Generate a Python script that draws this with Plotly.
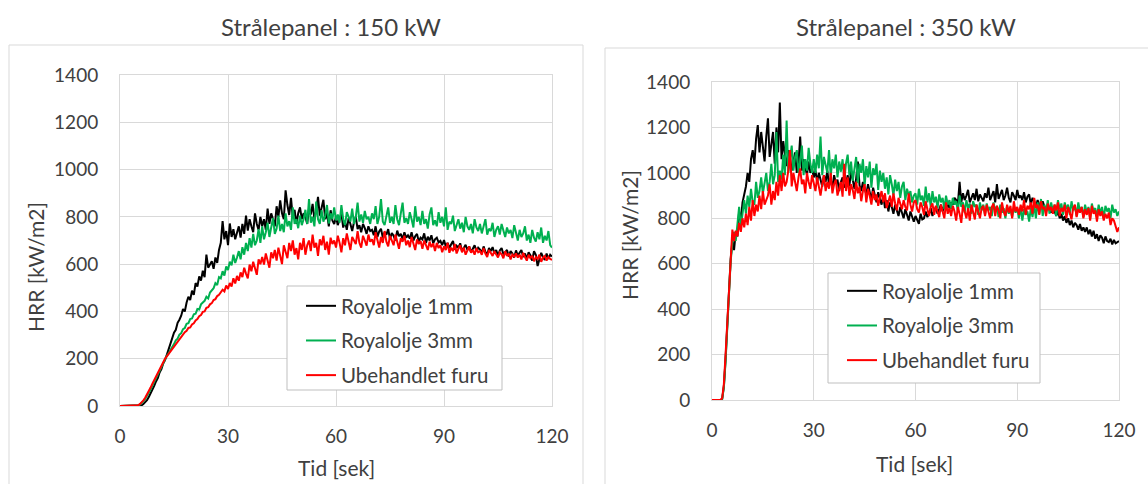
import plotly.graph_objects as go

# ---------------- data ----------------
STEP = 0.5  # seconds between samples
TIME = [i * STEP for i in range(241)]

SERIES_NAMES = ["Royalolje 1mm", "Royalolje 3mm", "Ubehandlet furu"]
SERIES_COLORS = ["#000000", "#00b050", "#ff0000"]
PANEL_TITLES = ["Strålepanel : 150 kW", "Strålepanel : 350 kW"]
X_TICKS = [0, 30, 60, 90, 120]
Y_TICKS = [0, 200, 400, 600, 800, 1000, 1200, 1400]
X_TITLE = "Tid [sek]"
Y_TITLE = "HRR [kW/m2]"

# 150 kW panel
P150_ROYAL_1MM = [
    0, 0, 0, 0, 0, 0, 0, 0, 0, 0, 0, 0, 3, 8, 15, 25, 38, 52, 68, 85,
    104, 118, 142, 156, 180, 194, 216, 238, 268, 282, 310, 322, 352, 365, 382, 410, 400, 438, 462, 448,
    488, 470, 520, 505, 548, 530, 572, 545, 640, 585, 598, 612, 580, 628, 605, 660, 690, 782, 705, 740,
    680, 772, 715, 748, 705, 730, 760, 712, 770, 728, 805, 742, 790, 760, 735, 815, 770, 745, 800, 760,
    790, 745, 835, 770, 815, 790, 760, 845, 800, 870, 815, 790, 912, 850, 808, 880, 795, 830, 770, 815,
    840, 790, 815, 800, 770, 835, 810, 855, 790, 825, 885, 805, 840, 872, 790, 815, 760, 828, 785, 770,
    800, 765, 790, 815, 755, 780, 745, 795, 770, 740, 778, 800, 748, 765, 735, 770, 752, 728, 760, 740,
    745, 722, 760, 715, 738, 750, 712, 735, 725, 748, 705, 732, 720, 700, 742, 718, 728, 705, 735, 712,
    722, 708, 735, 700, 718, 728, 695, 712, 705, 730, 690, 716, 700, 722, 688, 705, 712, 692, 698, 680,
    702, 675, 690, 668, 684, 698, 662, 678, 670, 688, 655, 672, 682, 660, 675, 650, 668, 680, 655, 670,
    662, 648, 675, 652, 640, 668, 655, 672, 645, 660, 635, 658, 668, 642, 650, 660, 632, 655, 645, 628,
    658, 635, 648, 660, 630, 645, 622, 650, 638, 615, 655, 640, 592, 625, 648, 630, 618, 645, 622, 640,
    632,
]
P150_ROYAL_3MM = [
    0, 0, 0, 0, 0, 0, 0, 0, 0, 0, 2, 6, 12, 20, 30, 42, 55, 70, 86, 102,
    118, 135, 150, 166, 182, 198, 212, 222, 240, 250, 262, 278, 285, 302, 308, 325, 330, 348, 350, 368,
    370, 388, 390, 410, 408, 430, 438, 445, 462, 455, 480, 490, 498, 520, 512, 545, 540, 570, 552, 590,
    575, 610, 595, 640, 605, 628, 655, 620, 672, 640, 690, 655, 710, 670, 728, 680, 700, 748, 690, 760,
    705, 735, 775, 715, 760, 795, 728, 750, 805, 740, 770, 735, 815, 760, 782, 745, 840, 770, 790, 752,
    805, 765, 790, 830, 770, 875, 775, 800, 760, 865, 790, 770, 828, 780, 805, 850, 772, 815, 790, 840,
    785, 810, 775, 850, 790, 765, 820, 795, 780, 835, 770, 800, 860, 780, 810, 775, 825, 790, 800, 770,
    815, 790, 845, 770, 800, 875, 780, 765, 810, 840, 775, 800, 770, 850, 790, 765, 815, 860, 775, 795,
    770, 820, 790, 755, 845, 780, 800, 765, 825, 770, 790, 750, 810, 840, 765, 785, 760, 820, 775, 800,
    760, 840, 745, 780, 770, 805, 740, 765, 790, 750, 775, 735, 800, 760, 745, 770, 730, 790, 755, 740,
    770, 730, 760, 790, 725, 750, 740, 775, 715, 745, 760, 725, 770, 740, 715, 755, 730, 745, 710, 765,
    725, 700, 745, 715, 730, 760, 700, 725, 690, 745, 712, 695, 735, 705, 755, 690, 720, 700, 740, 680,
    670,
]
P150_UNTREATED = [
    0, 0, 0, 0, 0, 0, 0, 0, 0, 0, 3, 8, 15, 24, 35, 48, 62, 78, 94, 110,
    125, 142, 156, 172, 186, 200, 210, 220, 235, 242, 255, 262, 275, 282, 295, 300, 312, 318, 330, 332,
    345, 350, 362, 368, 380, 385, 398, 400, 415, 418, 430, 435, 448, 452, 465, 470, 480, 492, 485, 510,
    495, 520, 505, 540, 518, 550, 530, 565, 545, 585, 560, 540, 598, 570, 610, 585, 555, 620, 600, 630,
    598, 645, 612, 585, 650, 625, 660, 615, 670, 640, 600, 680, 650, 625, 690, 655, 700, 640, 668, 620,
    690, 660, 710, 640, 680, 700, 655, 725, 670, 690, 635, 705, 680, 720, 660, 695, 640, 712, 685, 700,
    670, 720, 690, 650, 710, 680, 730, 695, 660, 715, 700, 685, 740, 690, 670, 720, 700, 678, 725, 695,
    705, 680, 735, 700, 670, 715, 690, 740, 695, 675, 720, 700, 680, 725, 690, 665, 710, 695, 720, 680,
    700, 672, 715, 690, 660, 705, 685, 698, 665, 700, 680, 660, 695, 672, 688, 655, 690, 668, 680, 650,
    675, 660, 690, 648, 670, 655, 685, 645, 665, 680, 650, 670, 640, 662, 675, 648, 660, 640, 668, 650,
    655, 640, 668, 645, 630, 660, 648, 635, 655, 640, 628, 650, 642, 625, 655, 635, 645, 620, 640, 632,
    645, 628, 640, 620, 648, 630, 615, 640, 625, 635, 612, 630, 622, 640, 610, 628, 635, 615, 630, 622,
    618,
]

# 350 kW panel
P350_ROYAL_1MM = [
    0, 0, 0, 0, 0, 0, 5, 60, 180, 330, 480, 620, 700, 660, 740, 720, 830, 790, 870, 900,
    940, 1000, 960, 1060, 1100, 1040, 1150, 1210, 1090, 1180, 1120, 1050, 1160, 1240, 1070, 1130, 1180, 1040, 1200, 1090,
    1310, 1060, 1140, 1080, 1030, 1100, 1070, 1010, 1050, 1090, 1000, 1040, 1160, 1010, 1060, 1030, 990, 1050, 1000, 1020,
    980, 1010, 960, 1000, 970, 940, 990, 960, 1010, 945, 975, 930, 990, 955, 970, 920, 960, 980, 935, 950,
    990, 940, 1010, 960, 930, 975, 1050, 945, 920, 960, 930, 905, 950, 920, 880, 935, 900, 870, 915, 885,
    860, 900, 845, 880, 830, 870, 850, 820, 860, 835, 810, 850, 825, 800, 840, 815, 790, 830, 805, 785,
    810, 790, 775, 820, 795, 800, 830, 805, 820, 845, 810, 830, 850, 820, 840, 860, 830, 855, 840, 865,
    845, 870, 860, 890, 880, 865, 960, 870, 910, 880, 900, 925, 870, 895, 910, 880, 930, 875, 905, 890,
    875, 910, 890, 935, 880, 900, 920, 870, 950, 885, 905, 925, 880, 900, 935, 890, 870, 915, 900, 880,
    925, 890, 900, 880, 915, 870, 895, 905, 860, 890, 875, 850, 880, 860, 840, 875, 850, 830, 860, 840,
    825, 850, 830, 810, 835, 800, 820, 790, 810, 780, 800, 770, 790, 760, 780, 770, 750, 775, 745, 760,
    740, 760, 730, 750, 720, 745, 710, 730, 700, 725, 715, 690, 720, 700, 695, 710, 685, 705, 690, 695,
    700,
]
P350_ROYAL_3MM = [
    0, 0, 0, 0, 0, 0, 5, 55, 170, 320, 470, 610, 690, 740, 700, 780, 850, 760, 830, 880,
    820, 900, 850, 930, 870, 860, 960, 890, 920, 980, 910, 950, 1000, 920, 960, 1040, 950, 990, 1180, 960,
    1010, 970, 1080, 990, 1230, 1000, 1060, 1120, 1010, 1070, 1100, 1000, 1050, 1120, 990, 1060, 1010, 1110, 1040, 1000,
    1060, 1000, 1080, 1020, 1160, 990, 1070, 1030, 1000, 1100, 985, 1060, 1020, 1080, 980, 1050, 1005, 1060, 970, 1040,
    1080, 990, 1050, 965, 1020, 1070, 955, 1040, 1000, 1060, 945, 1030, 980, 1050, 935, 1020, 990, 1040, 925, 1010,
    960, 1000, 930, 980, 905, 990, 950, 900, 970, 920, 960, 890, 940, 960, 880, 930, 900, 920, 870, 900,
    910, 860, 930, 880, 900, 855, 940, 870, 910, 850, 920, 870, 895, 845, 905, 870, 890, 840, 900, 860,
    880, 840, 890, 860, 875, 830, 900, 850, 870, 825, 880, 845, 865, 820, 875, 850, 860, 815, 870, 835,
    860, 815, 865, 835, 850, 810, 870, 830, 855, 805, 860, 825, 845, 800, 855, 820, 840, 805, 850, 825,
    845, 800, 850, 790, 840, 815, 830, 785, 845, 805, 860, 800, 870, 820, 885, 810, 860, 830, 880, 820,
    870, 830, 860, 810, 880, 840, 865, 815, 870, 840, 860, 815, 875, 835, 855, 810, 870, 830, 850, 805,
    860, 825, 850, 800, 865, 830, 845, 805, 860, 820, 850, 800, 855, 830, 845, 800, 860, 825, 840, 810,
    830,
]
P350_UNTREATED = [
    0, 0, 0, 0, 0, 0, 8, 70, 200, 350, 500, 640, 750, 700, 745, 720, 780, 740, 800, 760,
    820, 770, 850, 790, 880, 810, 860, 830, 900, 840, 920, 860, 880, 900, 950, 860, 920, 880, 960, 900,
    990, 920, 1000, 940, 960, 1010, 1100, 940, 1000, 960, 920, 980, 1020, 950, 970, 910, 1000, 960, 930, 990,
    960, 920, 980, 940, 900, 950, 990, 920, 960, 930, 1000, 910, 950, 970, 900, 930, 960, 895, 1040, 920,
    980, 900, 950, 925, 885, 960, 910, 940, 875, 920, 950, 870, 930, 900, 860, 920, 880, 905, 855, 890,
    920, 870, 910, 845, 880, 900, 850, 910, 865, 835, 890, 860, 840, 880, 850, 835, 910, 860, 830, 870,
    880, 840, 825, 870, 850, 815, 875, 840, 810, 850, 865, 815, 855, 830, 805, 860, 835, 800, 870, 820,
    845, 810, 855, 830, 790, 850, 820, 780, 860, 830, 800, 845, 790, 860, 820, 795, 860, 830, 800, 845,
    855, 810, 860, 830, 800, 850, 865, 810, 855, 835, 800, 870, 830, 810, 860, 825, 855, 800, 875, 830,
    850, 815, 860, 830, 880, 815, 855, 840, 870, 820, 890, 845, 860, 815, 875, 840, 850, 810, 865, 835,
    850, 820, 860, 835, 870, 810, 845, 830, 860, 800, 850, 825, 795, 845, 860, 805, 840, 825, 850, 800,
    840, 815, 845, 790, 855, 820, 835, 785, 840, 810, 830, 790, 820, 800, 825, 770, 800, 790, 760, 740,
    760,
]

PANELS = [
    [P150_ROYAL_1MM, P150_ROYAL_3MM, P150_UNTREATED],
    [P350_ROYAL_1MM, P350_ROYAL_3MM, P350_UNTREATED],
]

# ---------------- figure ----------------
W, H = 1148, 484
FONT = "Lato"
TXT = "#404040"
GRID = "#d9d9d9"


def px(x):
    return x / W


def py(y):
    return 1 - y / H


fig = go.Figure()

axis_ids = [("x", "y", "legend"), ("x2", "y2", "legend2")]
for p, values in enumerate(PANELS):
    xa, ya, lg = axis_ids[p]
    for name, color, vals in zip(SERIES_NAMES, SERIES_COLORS, values):
        fig.add_trace(go.Scatter(
            x=TIME, y=vals, mode="lines", name=name,
            line=dict(color=color, width=2),
            xaxis=xa, yaxis=ya, legend=lg, legendgroup=f"{lg}-{name}",
            hoverinfo="skip",
        ))

# plot-area pixel boxes (left, right, top, bottom)
plot_boxes = [(120, 552, 75, 406), (712, 1119, 82, 400)]

common_x = dict(range=[0, 120], tickvals=X_TICKS, showgrid=True, gridcolor=GRID, gridwidth=1,
                zeroline=False, showline=True, linecolor=GRID, linewidth=1, mirror=True,
                ticks="", tickfont=dict(family=FONT, size=19, color=TXT), ticklabelstandoff=13,
                fixedrange=True, automargin=False)
common_y = dict(range=[0, 1400], tickvals=Y_TICKS, showgrid=True, gridcolor=GRID, gridwidth=1,
                zeroline=False, showline=True, linecolor=GRID, linewidth=1, mirror=True,
                ticks="", tickfont=dict(family=FONT, size=19, color=TXT), ticklabelstandoff=17,
                fixedrange=True, automargin=False)

layout = dict(
    width=W, height=H, autosize=False,
    margin=dict(l=0, r=0, t=0, b=0, pad=0, autoexpand=False),
    paper_bgcolor="white", plot_bgcolor="white",
    font=dict(family=FONT, color=TXT),
    hovermode=False,
)
for p, (l, r, t, b) in enumerate(plot_boxes):
    sfx = "" if p == 0 else "2"
    layout["xaxis" + sfx] = dict(common_x, domain=[px(l), px(r)], anchor="y" + sfx)
    layout["yaxis" + sfx] = dict(common_y, domain=[py(b), py(t)], anchor="x" + sfx)
fig.update_layout(**layout)

# panel frames
frames = [(9, 45, 583, 500), (605, 48, 1160, 500)]
shapes = []
for (x0, y0, x1, y1) in frames:
    shapes.append(dict(type="rect", xref="paper", yref="paper", x0=px(x0), x1=px(x1), y0=py(y1), y1=py(y0),
                       line=dict(color=GRID, width=1), fillcolor="rgba(0,0,0,0)", layer="below"))
# legend frames
leg_boxes = [(287, 286, 502, 390), (828, 273, 1040, 383)]
for (x0, y0, x1, y1) in leg_boxes:
    shapes.append(dict(type="rect", xref="paper", yref="paper", x0=px(x0), x1=px(x1), y0=py(y1), y1=py(y0),
                       line=dict(color="#bfbfbf", width=1), fillcolor="white", layer="above"))
fig.update_layout(shapes=shapes)

leg_common = dict(bgcolor="rgba(0,0,0,0)", borderwidth=0, font=dict(family=FONT, size=20.5, color=TXT),
                  xanchor="left", yanchor="top", tracegroupgap=5, traceorder="grouped")
fig.update_layout(
    legend=dict(leg_common, x=px(301), y=py(286)),
    legend2=dict(leg_common, x=px(842), y=py(271)),
)

annotations = []
title_pos = [(331, 26), (906, 26)]
xt_pos = [(336, 467), (915, 463)]
yt_pos = [(35, 267), (629, 235)]
for p in range(2):
    annotations.append(dict(text=PANEL_TITLES[p], x=px(title_pos[p][0]), y=py(title_pos[p][1]),
                            xref="paper", yref="paper", showarrow=False, xanchor="center", yanchor="middle",
                            font=dict(family=FONT, size=24, color=TXT)))
    annotations.append(dict(text=X_TITLE, x=px(xt_pos[p][0]), y=py(xt_pos[p][1]),
                            xref="paper", yref="paper", showarrow=False, xanchor="center", yanchor="middle",
                            font=dict(family=FONT, size=21, color=TXT)))
    annotations.append(dict(text=Y_TITLE, x=px(yt_pos[p][0]), y=py(yt_pos[p][1]),
                            xref="paper", yref="paper", showarrow=False, xanchor="center", yanchor="middle",
                            textangle=-90, font=dict(family=FONT, size=21, color=TXT)))
fig.update_layout(annotations=annotations)

fig.write_html(
    "out.html",
    config={"displayModeBar": False},
    post_script="document.body.style.margin='0';document.body.style.overflow='hidden';",
)
